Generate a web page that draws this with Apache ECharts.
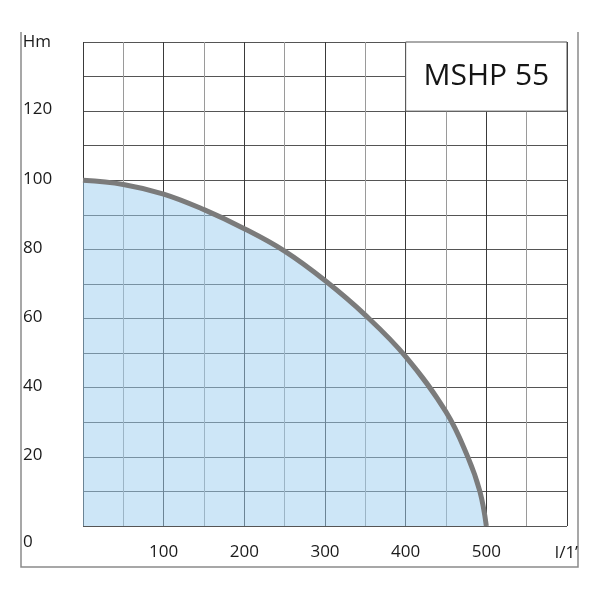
<!DOCTYPE html>
<html>
<head>
<meta charset="utf-8">
<script src="https://cdn.jsdelivr.net/npm/echarts@6/dist/echarts.min.js"></script>
<style>
  html, body { margin: 0; padding: 0; background: #fff; }
  #chart { width: 600px; height: 600px; }
</style>
</head>
<body>
<div id="chart"></div>
<script>
// pump curve, flow in l/min against head in m
const flow = [0, 50, 100, 150, 200, 250, 300, 350, 400, 450, 477, 492, 500];
const head = [100, 98.8, 96, 91.5, 86, 79.5, 71, 61, 49, 33, 20, 10, 0];
const xLabels = [100, 200, 300, 400, 500];
const yLabels = [0, 20, 40, 60, 80, 100, 120];
const modelName = 'MSHP 55';

const chart = echarts.init(document.getElementById('chart'));
const font = '"Open Sans", sans-serif';

chart.setOption({
    animation: false,
    grid: { left: 83, top: 42, right: 33, bottom: 74 },
    xAxis: {
        type: 'value',
        min: 0,
        max: 600,
        interval: 50,
        name: "l/1\u2019",
        nameLocation: 'end',
        nameGap: 11,
        nameTextStyle: {
            align: 'right', verticalAlign: 'top', padding: [19, 0, 0, 0],
            fontFamily: font, fontSize: 17, color: '#1a1a1a'
        },
        axisLine: { show: false },
        axisTick: { show: false },
        axisLabel: {
            margin: 18,
            fontFamily: font, fontSize: 17, color: '#1a1a1a',
            formatter: function (v) { return xLabels.indexOf(v) >= 0 ? String(v) : ''; }
        },
        splitLine: { show: true, lineStyle: { color: ['#3a3a3a', '#9a9a9a'], width: 1 } }
    },
    yAxis: {
        type: 'value',
        min: 0,
        max: 140,
        interval: 10,
        name: 'Hm',
        nameLocation: 'end',
        nameGap: 0,
        nameTextStyle: {
            align: 'right', verticalAlign: 'middle', padding: [0, 32, 0, 0],
            fontFamily: font, fontSize: 17, color: '#1a1a1a'
        },
        axisLine: { show: false },
        axisTick: { show: false },
        axisLabel: {
            margin: 60,
            align: 'left',
            fontFamily: font, fontSize: 17, color: '#1a1a1a',
            formatter: function (v) {
                if (yLabels.indexOf(v) < 0) return '';
                return v === 0 ? '{z|0}' : '{n|' + v + '}';
            },
            rich: {
                z: { fontFamily: font, fontSize: 17, color: '#1a1a1a', padding: [32, 0, 0, 0] },
                n: { fontFamily: font, fontSize: 17, color: '#1a1a1a', padding: [0, 0, 3, 0] }
            }
        },
        splitLine: { show: true, lineStyle: { color: '#555', width: 1 } }
    },
    series: [{
        type: 'line',
        data: flow.map((x, i) => [x, head[i]]),
        smooth: 0.4,
        showSymbol: false,
        lineStyle: { color: '#7b7b7b', width: 5 },
        areaStyle: { color: 'rgb(155,205,239)', opacity: 0.5 },
        markArea: {
            silent: true,
            itemStyle: { color: '#fff', opacity: 1, borderColor: '#555', borderWidth: 1 },
            label: {
                show: true, position: 'inside',
                fontFamily: font, fontSize: 30, color: '#151515'
            },
            data: [[
                { name: modelName, xAxis: 400, yAxis: 140 },
                { xAxis: 600, yAxis: 120 }
            ]]
        }
    }],
    graphic: [{
        type: 'polyline',
        shape: { points: [[21, 32], [21, 567], [578, 567], [578, 32]] },
        style: { stroke: '#8a8a8a', lineWidth: 1.5, fill: null }
    }]
});
</script>
</body>
</html>
